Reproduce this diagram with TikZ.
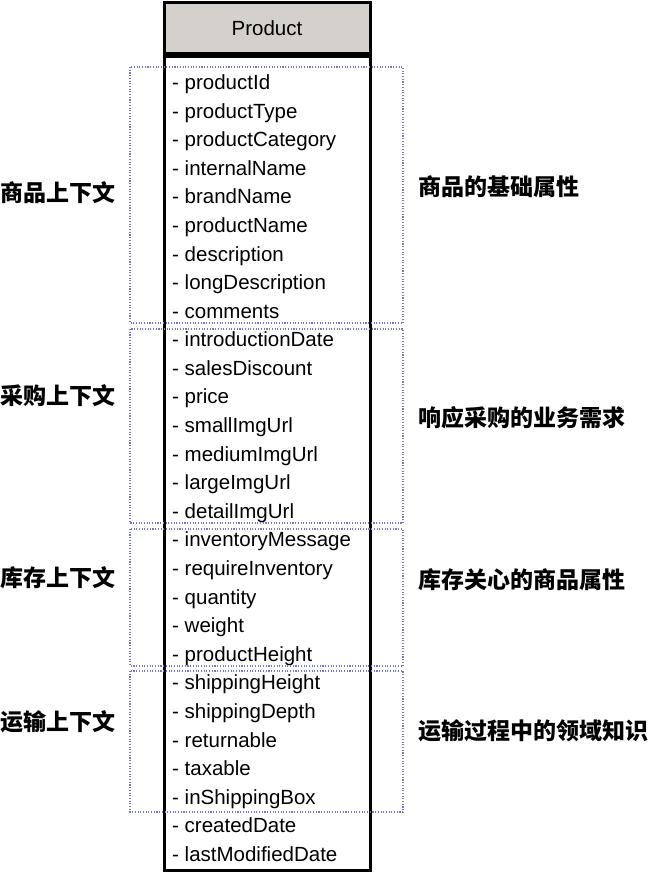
\documentclass[tikz,border=0pt]{standalone}
\usepackage{fontspec}
\setmainfont{Liberation Sans}
\newfontfamily\cjk{Noto Sans CJK SC}
\usetikzlibrary{positioning}

\definecolor{headgray}{RGB}{212,208,204}
\definecolor{dotblue}{RGB}{120,120,200}

\begin{document}
\begin{tikzpicture}[
    x=1pt, y=-1pt,
    header/.style={draw, line width=3pt, fill=headgray, minimum width=206pt, minimum height=51pt, inner sep=0pt, font=\fontsize{20.5}{24}\selectfont},
    attr/.style={anchor=base west, inner sep=0pt, font=\fontsize{20.5}{24}\selectfont},
    group/.style={dotblue, line width=1.1pt, dash pattern=on 1.1pt off 1.6pt},
    ctx/.style={anchor=west, inner sep=0pt, font=\cjk\bfseries\fontsize{23}{26}\selectfont}
]
    \useasboundingbox (0,0) rectangle (651,873);

    % class box
    \draw[line width=3pt] (164,28) rectangle (370,870);
    \node[header] (product) at (267,28) {Product};
    \draw[line width=5pt] (product.south west) -- (product.south east);

    % attributes
    \foreach \name [count=\i] in {productId, productType, productCategory, internalName,
        brandName, productName, description, longDescription, comments,
        introductionDate, salesDiscount, price, smallImgUrl, mediumImgUrl,
        largeImgUrl, detailImgUrl, inventoryMessage, requireInventory, quantity,
        weight, productHeight, shippingHeight, shippingDepth, returnable, taxable,
        inShippingBox, createdDate, lastModifiedDate}
        \node[attr] (a\i) at (172, {89.5+28.59*(\i-1)}) {- \name};

    % contexts
    \draw[group] (130,67) rectangle (403,323);
    \draw[group] (130,329) rectangle (403,523);
    \draw[group] (130,529) rectangle (403,666);
    \draw[group] (130,671) rectangle (403,812);

    \node[ctx] (goods) at (0,193) {商品上下文};
    \node[ctx] (purchase) at (0,396) {采购上下文};
    \node[ctx] (stock) at (0,578) {库存上下文};
    \node[ctx] (ship) at (0,722) {运输上下文};

    \node[ctx] (goodsnote) at (418,187) {商品的基础属性};
    \node[ctx] (purchasenote) at (418,418) {响应采购的业务需求};
    \node[ctx] (stocknote) at (418,580) {库存关心的商品属性};
    \node[ctx] (shipnote) at (418,731) {运输过程中的领域知识};
\end{tikzpicture}
\end{document}
